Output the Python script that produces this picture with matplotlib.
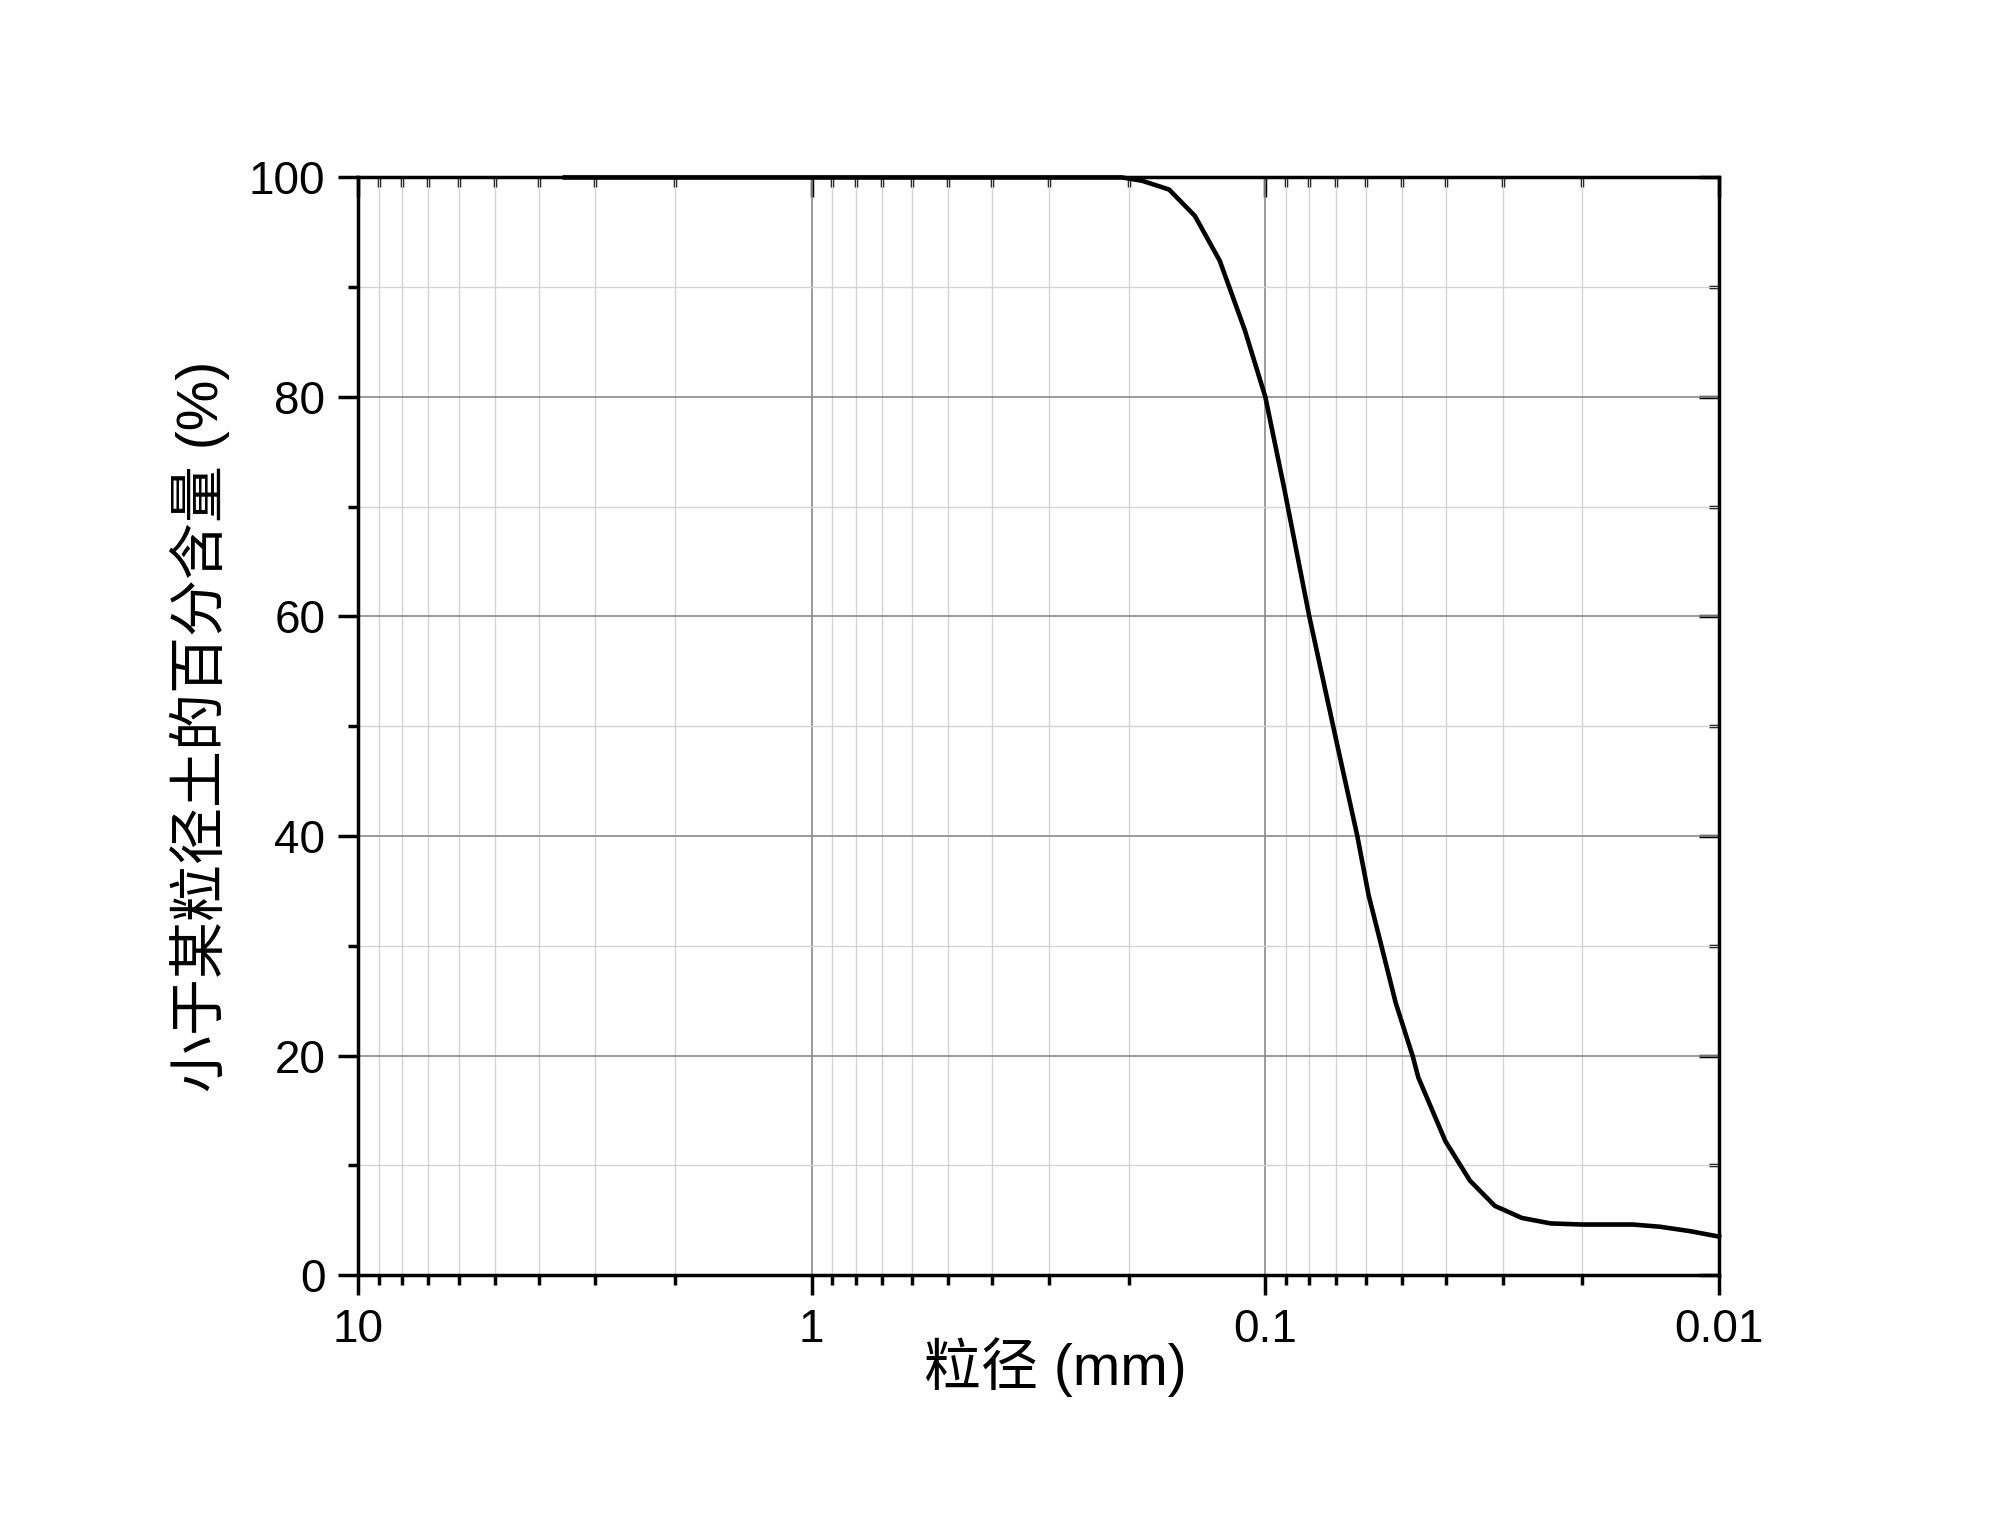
import matplotlib.pyplot as plt
from matplotlib.ticker import LogLocator, FixedLocator, FixedFormatter, MultipleLocator, NullFormatter

# grain size (mm) and cumulative percent finer
size_mm = [3.5, 0.207, 0.187, 0.163, 0.143, 0.126, 0.111, 0.100, 0.091, 0.080,
           0.069, 0.0627, 0.0592, 0.0558, 0.0516, 0.0473, 0.046, 0.0401, 0.0354,
           0.0312, 0.0272, 0.0235, 0.020, 0.0155, 0.0135, 0.0116, 0.010]
pct_finer = [100, 100, 99.7, 98.9, 96.5, 92.4, 86.1, 80.0, 71.8, 60.0,
             47.8, 40.0, 34.6, 30.4, 24.8, 19.9, 18.0, 12.2, 8.6,
             6.3, 5.2, 4.7, 4.6, 4.6, 4.4, 4.0, 3.5]

x_ticks = [10, 1, 0.1, 0.01]
x_ticklabels = ['10', '1', '0.1', '0.01']
y_ticks = [0, 20, 40, 60, 80, 100]

fonts = ['Liberation Sans', 'Noto Sans CJK SC']
plt.rcParams['font.family'] = fonts

fig = plt.figure(figsize=(20, 15.31), dpi=100)
fig.set_facecolor('white')
ax = fig.add_axes([0.179, 0.1672, 0.6805, 0.7169])

ax.plot(size_mm, pct_finer, color='black', lw=3.3, zorder=3, clip_on=False)

ax.set_xscale('log')
ax.set_xlim(10, 0.01)
ax.set_ylim(0, 100)

ax.xaxis.set_major_locator(FixedLocator(x_ticks))
ax.xaxis.set_major_formatter(FixedFormatter(x_ticklabels))
ax.xaxis.set_minor_locator(LogLocator(base=10, subs=range(2, 10)))
ax.xaxis.set_minor_formatter(NullFormatter())
ax.yaxis.set_major_locator(FixedLocator(y_ticks))
ax.yaxis.set_minor_locator(MultipleLocator(10))

ax.grid(which='major', color='#8a8a8a', lw=1.2)
ax.grid(which='minor', color='#d3d3d3', lw=1.0)
ax.set_axisbelow(True)

lw_axis = 2.5
for s in ax.spines.values():
    s.set_linewidth(lw_axis)

ax.tick_params(which='both', direction='out', width=lw_axis, labelsize=33,
               top=False, right=False)
ax.tick_params(which='major', length=14.5, pad=9)
ax.tick_params(which='minor', length=7)

# inward ticks on top and right
top = ax.secondary_xaxis('top')
top.xaxis.set_major_locator(FixedLocator(x_ticks))
top.xaxis.set_minor_locator(LogLocator(base=10, subs=range(2, 10)))
top.xaxis.set_major_formatter(NullFormatter())
top.xaxis.set_minor_formatter(NullFormatter())
top.tick_params(which='both', direction='in', width=lw_axis)
top.tick_params(which='major', length=14.5)
top.tick_params(which='minor', length=7)

right = ax.secondary_yaxis('right')
right.yaxis.set_major_locator(FixedLocator(y_ticks))
right.yaxis.set_minor_locator(MultipleLocator(10))
right.yaxis.set_major_formatter(NullFormatter())
right.tick_params(which='both', direction='in', width=lw_axis)
right.tick_params(which='major', length=14.5)
right.tick_params(which='minor', length=7)

ax.set_xlabel('粒径 (mm)', fontsize=41, va='center')
ax.xaxis.set_label_coords(0.512, -0.0838)
ax.set_ylabel('小于某粒径土的百分含量 (%)', fontsize=41, va='center')
ax.yaxis.set_label_coords(-0.116, 0.5)

fig.savefig('out.png', dpi=100, facecolor='white')
